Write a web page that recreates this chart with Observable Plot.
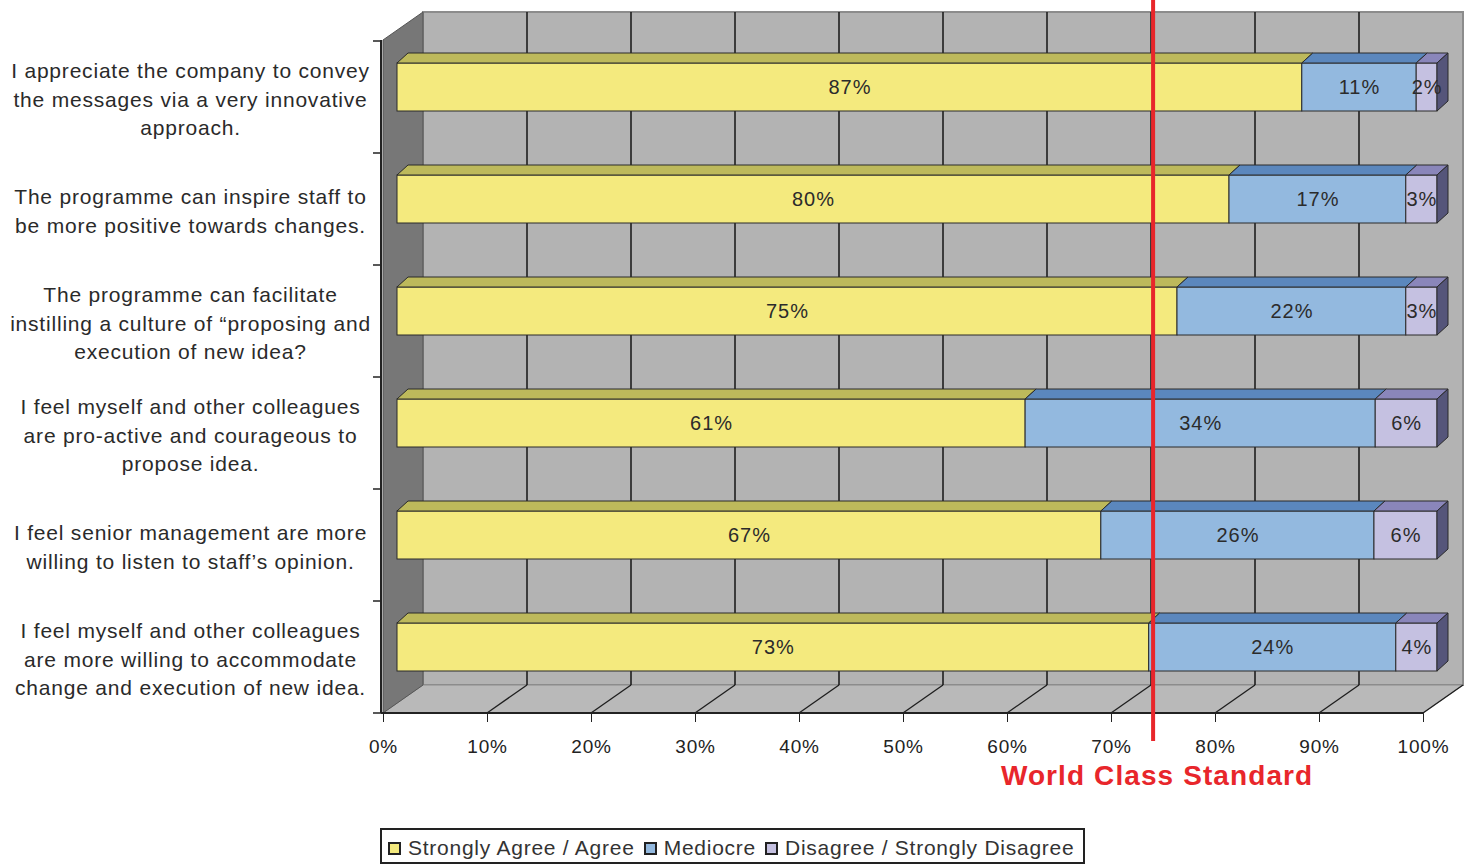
<!DOCTYPE html>
<html>
<head>
<meta charset="utf-8">
<script src="https://cdn.jsdelivr.net/npm/d3@7"></script>
<script src="https://cdn.jsdelivr.net/npm/@observablehq/plot@0.6"></script>
<style>
  body { margin: 0; background: #fff; font-family: "Liberation Sans", Arial, sans-serif; }
  #wrap { position: relative; width: 1472px; height: 865px; overflow: hidden; }
  #wrap svg.plot { position: absolute; left: 0; top: 0; }
  #legend { position: absolute; left: 380px; top: 828px; width: 695px; height: 28px;
            border: 2px solid #222; box-sizing: content-box; display: flex; align-items: center;
            font-size: 21px; letter-spacing: 0.75px; color: #333; white-space: nowrap;
            padding-left: 6px; padding-top: 4px; }
  #legend .item { display: flex; align-items: center; margin-right: 9px; }
  #legend .sw { width: 9px; height: 9px; border: 2px solid #222; margin-right: 7px; }
  .ylab text { letter-spacing: 0.8px; }
  .barlab text { letter-spacing: 1px; }
  .wcs text { letter-spacing: 1.1px; }
  g[aria-label="x-axis"] text, g[aria-label="x-axis tick label"] text { letter-spacing: 0.8px; }
</style>
</head>
<body>
<div id="wrap"></div>
<script>
// ---- data ----
const categories = [
  "I appreciate the company to convey\nthe messages via a very innovative\napproach.",
  "The programme can inspire staff to\nbe more positive towards changes.",
  "The programme can facilitate\ninstilling a culture of \u201cproposing and\nexecution of new idea?",
  "I feel myself and other colleagues\nare pro-active and courageous to\npropose idea.",
  "I feel senior management are more\nwilling to listen to staff\u2019s opinion.",
  "I feel myself and other colleagues\nare more willing to accommodate\nchange and execution of new idea."
];
const series = ["Strongly Agree / Agree", "Mediocre", "Disagree / Strongly Disagree"];
const agree    = [87, 80, 75, 61, 67, 73];
const mediocre = [11, 17, 22, 34, 26, 24];
const disagree = [2, 3, 3, 6, 6, 4];
const xTicks = [0, 0.1, 0.2, 0.3, 0.4, 0.5, 0.6, 0.7, 0.8, 0.9, 1];
const standardValue = 0.74;
const standardLabel = "World Class Standard";

// ---- styles ----
const frontColors = ["#f4ea7e", "#93b9df", "#c5c1e1"];
const topColors   = ["#bdb95b", "#5b87bd", "#8a86ba"];
const sideColor = "#55557a";
const WX = 40, WY = 28;     // wall depth offset
const BX = 14, BY = -10;    // bar front face offset
const TX = 11, TY = 10;     // bar depth
const INSET = 32;

const seriesValues = [agree, mediocre, disagree];
const rows = [];
categories.forEach((c, i) => series.forEach((s, j) => rows.push({cat: c, series: s, value: seriesValues[j][i]})));

function background(index, scales, values, dim) {
  const {x, y} = scales;
  const g = d3.create("svg:g");
  const x0 = x(0), x1 = x(1);
  const yTop = dim.marginTop, yBot = dim.height - dim.marginBottom;
  g.append("rect").attr("x", x0 + WX).attr("y", yTop - WY).attr("width", x1 - x0).attr("height", yBot - yTop)
    .attr("fill", "#b3b3b3").attr("stroke", "#8c8c8c").attr("stroke-width", 2);
  g.append("path").attr("d", `M${x0},${yBot}L${x0 + WX},${yBot - WY}L${x1 + WX},${yBot - WY}L${x1},${yBot}Z`)
    .attr("fill", "#b9b9b9").attr("stroke", "#8c8c8c");
  for (const t of xTicks) {
    if (t > 0 && t < 1) {
      g.append("line").attr("x1", x(t) + WX).attr("x2", x(t) + WX).attr("y1", yTop - WY).attr("y2", yBot - WY)
        .attr("stroke", "#1e1e1e").attr("stroke-width", 1.6);
    }
    if (t > 0) {
      g.append("line").attr("x1", x(t)).attr("y1", yBot).attr("x2", x(t) + WX).attr("y2", yBot - WY)
        .attr("stroke", "#1e1e1e").attr("stroke-width", 1.3);
    }
  }
  g.append("path").attr("d", `M${x0},${yTop}L${x0 + WX},${yTop - WY}L${x0 + WX},${yBot - WY}L${x0},${yBot}Z`)
    .attr("fill", "#777777").attr("stroke", "#555");
  g.append("line").attr("x1", x0 - 2).attr("x2", x0 - 2).attr("y1", yTop).attr("y2", yBot).attr("stroke", "#222").attr("stroke-width", 2);
  g.append("line").attr("x1", x0 - 2).attr("x2", x1).attr("y1", yBot).attr("y2", yBot).attr("stroke", "#222").attr("stroke-width", 2);
  const edges = categories.map(c => y(c)).concat([yBot]);
  for (const e of edges) {
    g.append("line").attr("x1", x0 - 10).attr("x2", x0 - 2).attr("y1", e).attr("y2", e).attr("stroke", "#222").attr("stroke-width", 1.5);
  }
  return g.node();
}

function barTops(index, scales, values, dim) {
  const {x, y} = scales;
  const g = d3.create("svg:g");
  categories.forEach((c, i) => {
    const total = seriesValues.reduce((a, s) => a + s[i], 0);
    let cum = 0;
    const yT = y(c) + BY + INSET;
    const yB = y(c) + y.bandwidth() + BY - INSET;
    let lastX = 0;
    seriesValues.forEach((s, j) => {
      const a = x(cum / total) + BX;
      cum += s[i];
      const b = x(cum / total) + BX;
      g.append("path").attr("d", `M${a},${yT}L${a + TX},${yT - TY}L${b + TX},${yT - TY}L${b},${yT}Z`)
        .attr("fill", topColors[j]).attr("stroke", "#2a2a2a").attr("stroke-width", 1);
      lastX = b;
    });
    g.append("path").attr("d", `M${lastX},${yT}L${lastX + TX},${yT - TY}L${lastX + TX},${yB - TY}L${lastX},${yB}Z`)
      .attr("fill", sideColor).attr("stroke", "#2a2a2a").attr("stroke-width", 1);
  });
  return g.node();
}

const plot = Plot.plot({
  width: 1472,
  height: 810,
  marginLeft: 383,
  marginRight: 49,
  marginTop: 40,
  marginBottom: 97,
  style: {fontFamily: "'Liberation Sans', Arial, sans-serif", fontSize: "19px", color: "#222", background: "transparent"},
  x: {domain: [0, 1], ticks: xTicks, tickFormat: d3.format(".0%"), tickSize: 9, tickPadding: 17, label: null},
  y: {domain: categories, axis: null, padding: 0},
  color: {domain: series, range: frontColors},
  marks: [
    background,
    Plot.barX(rows, Plot.stackX({x: "value", y: "cat", fill: "series", offset: "normalize",
      dx: BX, dy: BY, insetTop: INSET, insetBottom: INSET, stroke: "#2a2a2a", strokeWidth: 1})),
    barTops,
    Plot.text(rows, Plot.stackX({x: "value", y: "cat", offset: "normalize", text: d => d.value + "%",
      dx: BX, dy: BY, fill: "#2b2b2b", fontSize: 20, className: "barlab"})),
    Plot.text(categories, {y: d => d, text: d => d, frameAnchor: "left", dx: -193, textAnchor: "middle",
      fontSize: 21, lineHeight: 1.36, fill: "#2a2a2a", className: "ylab"}),
    Plot.ruleX([standardValue], {x: d => d, stroke: "#e8262b", strokeWidth: 4, insetTop: -40, insetBottom: -28}),
    Plot.text([standardValue], {x: d => d, text: () => standardLabel, frameAnchor: "bottom", dy: 71, dx: 4,
      fill: "#e8262b", fontWeight: "bold", fontSize: 28, className: "wcs"})
  ]
});

const wrap = document.getElementById("wrap");
wrap.appendChild(plot);

const legend = document.createElement("div");
legend.id = "legend";
series.forEach((s, j) => {
  const item = document.createElement("div");
  item.className = "item";
  const sw = document.createElement("div");
  sw.className = "sw";
  sw.style.background = frontColors[j];
  const t = document.createElement("span");
  t.textContent = s;
  item.appendChild(sw);
  item.appendChild(t);
  legend.appendChild(item);
});
wrap.appendChild(legend);
</script>
</body>
</html>
